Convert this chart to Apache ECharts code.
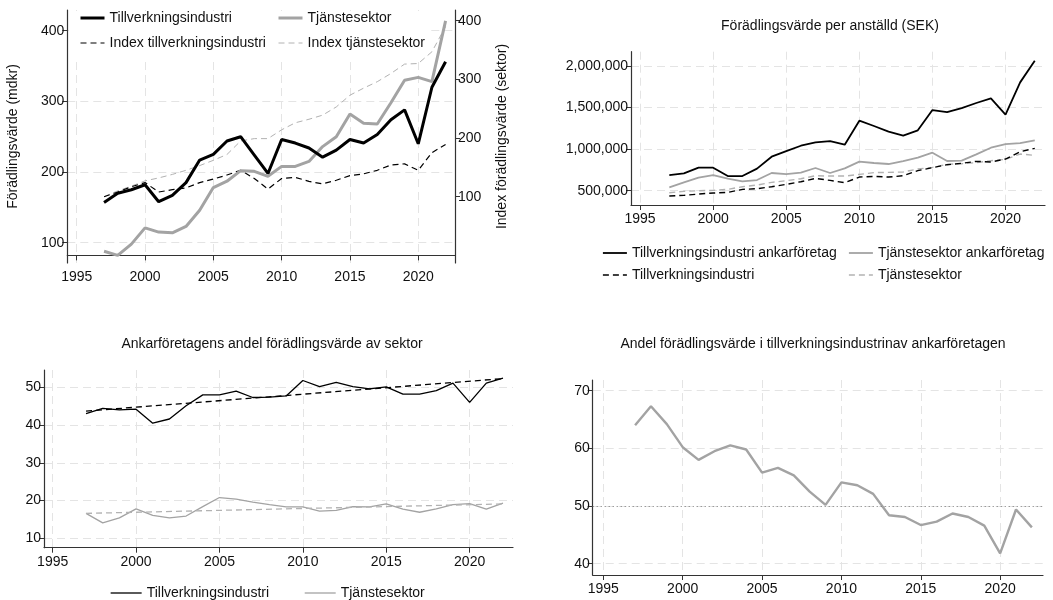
<!DOCTYPE html>
<html>
<head>
<meta charset="utf-8">
<script src="https://cdn.jsdelivr.net/npm/echarts@6/dist/echarts.min.js"></script>
<style>
html,body{margin:0;padding:0;background:#fff;}
#chart{width:1053px;height:600px;}
</style>
</head>
<body>
<div id="chart"></div>
<script>
// ---------- data ----------
const years = [1997,1998,1999,2000,2001,2002,2003,2004,2005,2006,2007,2008,2009,2010,2011,2012,2013,2014,2015,2016,2017,2018,2019,2020,2021,2022];
const yearTicks = [1995,2000,2005,2010,2015,2020];

// Panel 1: förädlingsvärde (mdkr) and index (1997 = 100)
const p1Tillv = [157,170,175,182,158,167,185,217,225,244,250,224,198,246,241,234,221,231,246,241,253,274,288,240,320,356];
const p1Tjanst = [88,82,98,121,115,114,123,146,178,187,202,201,194,208,208,215,236,250,282,269,268,298,330,334,328,414];
const p1IdxTillv = [100,108,117,124,108,112,115,124,130,137,145,131,113,131,133,126,122,128,136,139,145,154,156,145,175,189];
const p1IdxTjanst = [100,110,118,127,132,138,145,153,162,172,195,199,199,214,226,232,239,253,273,285,296,310,326,327,347,390];
const p1LeftTicks = [100,200,300,400];
const p1RightTicks = [100,200,300,400];

// Panel 2: förädlingsvärde per anställd (SEK)
const p2TillvAnkar = [688000,708000,777000,777000,676000,676000,765000,909000,977000,1041000,1081000,1097000,1053000,1342000,1278000,1210000,1162000,1226000,1470000,1446000,1494000,1555000,1611000,1414000,1803000,2064000];
const p2TjanstAnkar = [540000,600000,656000,688000,644000,612000,628000,713000,700000,717000,773000,713000,769000,849000,833000,821000,857000,897000,957000,857000,861000,937000,1017000,1061000,1073000,1106000];
const p2Tillv = [436000,444000,460000,472000,480000,516000,524000,548000,576000,608000,648000,624000,596000,664000,672000,664000,680000,741000,777000,813000,829000,853000,845000,881000,969000,1009000];
const p2Tjanst = [476000,492000,500000,504000,516000,548000,568000,600000,620000,644000,680000,676000,676000,696000,717000,721000,725000,761000,781000,817000,825000,837000,861000,877000,941000,925000];
const p2Ticks = [500000,1000000,1500000,2000000];

// Panel 3: ankarföretagens andel (%) av sektor, with fitted trend end points
const p3Tillv = [43.0,44.4,44.0,44.2,40.5,41.6,45.1,48.0,48.0,49.0,47.3,47.4,47.7,51.8,50.2,51.3,50.2,49.6,50.1,48.2,48.2,49.1,51.1,46.0,51.1,52.4];
const p3Tjanst = [16.6,14.1,15.4,17.8,16.1,15.4,15.9,18.4,20.8,20.4,19.6,18.9,18.3,18.3,17.2,17.4,18.4,18.3,19.1,17.7,16.9,17.8,18.9,19.2,17.7,19.3];
const p3TrendYears = [1997,2022];
const p3TillvTrend = [43.7,52.3];
const p3TjanstTrend = [16.6,19.1];
const p3Ticks = [10,20,30,40,50];

// Panel 4: andel förädlingsvärde i tillverkningsindustrin av ankarföretagen (%)
const p4Andel = [64.0,67.3,64.2,60.2,58.0,59.5,60.5,59.8,55.8,56.6,55.3,52.5,50.2,54.1,53.6,52.1,48.4,48.1,46.7,47.3,48.7,48.1,46.6,41.8,49.4,46.3];
const p4RefLine = 50;
const p4Ticks = [40,50,60,70];

// ---------- chart ----------
const FONT = '"Liberation Sans", Arial, sans-serif';
const pairs = (xs, ys) => xs.map((x, i) => [x, ys[i]]);
const gridLine = { show: true, lineStyle: { color: '#e4e4e4', type: [8, 5], width: 1 } };
const axisLineStyle = { show: true, lineStyle: { color: '#333', width: 1.2 } };
const stripName = n => n.replace(/^p\d:/, '');

function xAxisFor(gridIndex, min, max) {
  return {
    type: 'value', gridIndex, min, max,
    axisLine: axisLineStyle,
    axisTick: { show: true, length: 5, customValues: yearTicks, lineStyle: { color: '#333' } },
    axisLabel: { customValues: yearTicks, formatter: v => String(v), color: '#111', fontSize: 14, fontFamily: FONT, margin: 7 },
    splitLine: gridLine
  };
}
function yAxisFor(gridIndex, min, max, ticks, fmt, extra) {
  return Object.assign({
    type: 'value', gridIndex, min, max,
    axisLine: axisLineStyle,
    axisTick: { show: true, length: 5, customValues: ticks, lineStyle: { color: '#333' } },
    axisLabel: { customValues: ticks, formatter: fmt || (v => String(v)), color: '#111', fontSize: 14, fontFamily: FONT, margin: 3 },
    splitLine: gridLine
  }, extra || {});
}
function line(name, xi, yi, data, color, width, type, z) {
  return {
    name, type: 'line', xAxisIndex: xi, yAxisIndex: yi, data,
    showSymbol: false, symbol: 'none', silent: true, z: z || 2,
    lineStyle: { color, width, type: type || 'solid' },
    itemStyle: { color }
  };
}
const legendBase = {
  textStyle: { color: '#111', fontSize: 14, fontFamily: FONT },
  formatter: stripName, padding: 0, selectedMode: false,
  lineStyle: { width: 'inherit' },
  itemStyle: { opacity: 0, color: 'rgba(0,0,0,0)', borderWidth: 0 }
};

const BLACK = '#000000';
const GRAY = '#a3a3a3';
const LGRAY = '#b2b2b2';

const option = {
  animation: false,
  backgroundColor: '#fff',
  title: [
    { text: 'Förädlingsvärde per anställd (SEK)', left: 830, top: 19, textAlign: 'center', padding: 0,
      textStyle: { fontSize: 14, fontWeight: 'normal', color: '#111', fontFamily: FONT } },
    { text: 'Ankarföretagens andel förädlingsvärde av sektor', left: 272, top: 337, textAlign: 'center', padding: 0,
      textStyle: { fontSize: 14, fontWeight: 'normal', color: '#111', fontFamily: FONT } },
    { text: 'Andel förädlingsvärde i tillverkningsindustrinav ankarföretagen', left: 813, top: 337, textAlign: 'center', padding: 0,
      textStyle: { fontSize: 14, fontWeight: 'normal', color: '#111', fontFamily: FONT } }
  ],
  graphic: [
    { type: 'rect', z: 1, silent: true, shape: { x: 69, y: 11, width: 362, height: 46 }, style: { fill: '#fff' } }
  ],
  legend: [
    Object.assign({}, legendBase, { left: 79, top: 11, orient: 'vertical', itemWidth: 24, itemHeight: 14, itemGap: 11,
      data: ['Tillverkningsindustri', 'Index tillverkningsindustri'] }),
    Object.assign({}, legendBase, { left: 277, top: 11, orient: 'vertical', itemWidth: 24, itemHeight: 14, itemGap: 11,
      data: ['Tjänstesektor', 'Index tjänstesektor'] }),
    Object.assign({}, legendBase, { left: 602, top: 246, orient: 'vertical', itemWidth: 24, itemHeight: 14, itemGap: 8,
      data: ['Tillverkningsindustri ankarföretag', 'p2:Tillverkningsindustri'] }),
    Object.assign({}, legendBase, { left: 848, top: 246, orient: 'vertical', itemWidth: 24, itemHeight: 14, itemGap: 8,
      data: ['Tjänstesektor ankarföretag', 'p2:Tjänstesektor'] }),
    Object.assign({}, legendBase, { left: 110, top: 586, orient: 'horizontal', itemWidth: 31, itemHeight: 14, itemGap: 35,
      data: ['p3:Tillverkningsindustri', 'p3:Tjänstesektor'] })
  ],
  grid: [
    { left: 67.3, top: 10, width: 387.7, height: 253 },
    { left: 631, top: 51.7, width: 414, height: 153.3 },
    { left: 44, top: 370, width: 469, height: 177.7 },
    { left: 592.7, top: 380, width: 450.3, height: 195 }
  ],
  xAxis: [
    xAxisFor(0, 1994.31, 2022.69),
    xAxisFor(1, 1994.38, 2022.7),
    xAxisFor(2, 1994.48, 2022.6),
    xAxisFor(3, 1994.33, 2022.7)
  ],
  yAxis: [
    yAxisFor(0, 71.3, 429.3, p1LeftTicks, null, {
      name: 'Förädlingsvärde (mdkr)', nameLocation: 'middle', nameGap: 47, nameRotate: 90,
      nameTextStyle: { fontSize: 14, color: '#111', fontFamily: FONT } }),
    yAxisFor(0, -13, 418.2, p1RightTicks, null, {
      position: 'right',
      splitLine: { show: false },
      name: 'Index förädlingsvärde (sektor)', nameLocation: 'middle', nameGap: 40, nameRotate: 90,
      nameTextStyle: { fontSize: 14, color: '#111', fontFamily: FONT } }),
    yAxisFor(1, 328000, 2172000, p2Ticks, v => v.toLocaleString('en-US')),
    yAxisFor(2, 7.51, 54.58, p3Ticks),
    yAxisFor(3, 38.04, 71.85, p4Ticks)
  ],
  series: [
    // panel 1
    line('Index tjänstesektor', 0, 1, pairs(years, p1IdxTjanst), LGRAY, 1, [6, 4], 3),
    line('Index tillverkningsindustri', 0, 1, pairs(years, p1IdxTillv), BLACK, 1.2, [6, 4], 3),
    line('Tjänstesektor', 0, 0, pairs(years, p1Tjanst), GRAY, 3, 'solid', 4),
    line('Tillverkningsindustri', 0, 0, pairs(years, p1Tillv), BLACK, 3, 'solid', 5),
    // panel 2
    line('p2:Tjänstesektor', 1, 2, pairs(years, p2Tjanst), LGRAY, 1.4, [6, 4]),
    line('p2:Tillverkningsindustri', 1, 2, pairs(years, p2Tillv), BLACK, 1.4, [6, 4]),
    line('Tjänstesektor ankarföretag', 1, 2, pairs(years, p2TjanstAnkar), GRAY, 1.8),
    line('Tillverkningsindustri ankarföretag', 1, 2, pairs(years, p2TillvAnkar), BLACK, 1.8),
    // panel 3
    line('p3:Tjänstesektor', 2, 3, pairs(years, p3Tjanst), GRAY, 1.3),
    line('p3:Tillverkningsindustri', 2, 3, pairs(years, p3Tillv), BLACK, 1.3),
    line('p3:trendTjanst', 2, 3, pairs(p3TrendYears, p3TjanstTrend), LGRAY, 1.3, [6, 4]),
    line('p3:trendTillv', 2, 3, pairs(p3TrendYears, p3TillvTrend), BLACK, 1.3, [6, 4]),
    // panel 4
    Object.assign(line('p4:andel', 3, 4, pairs(years, p4Andel), GRAY, 2.4), {
      markLine: {
        silent: true, symbol: 'none', label: { show: false },
        lineStyle: { color: '#777', type: [1, 3], width: 1 },
        data: [{ yAxis: p4RefLine }]
      }
    })
  ]
};

const chart = echarts.init(document.getElementById('chart'), null, { renderer: 'canvas' });
chart.setOption(option);
</script>
</body>
</html>
